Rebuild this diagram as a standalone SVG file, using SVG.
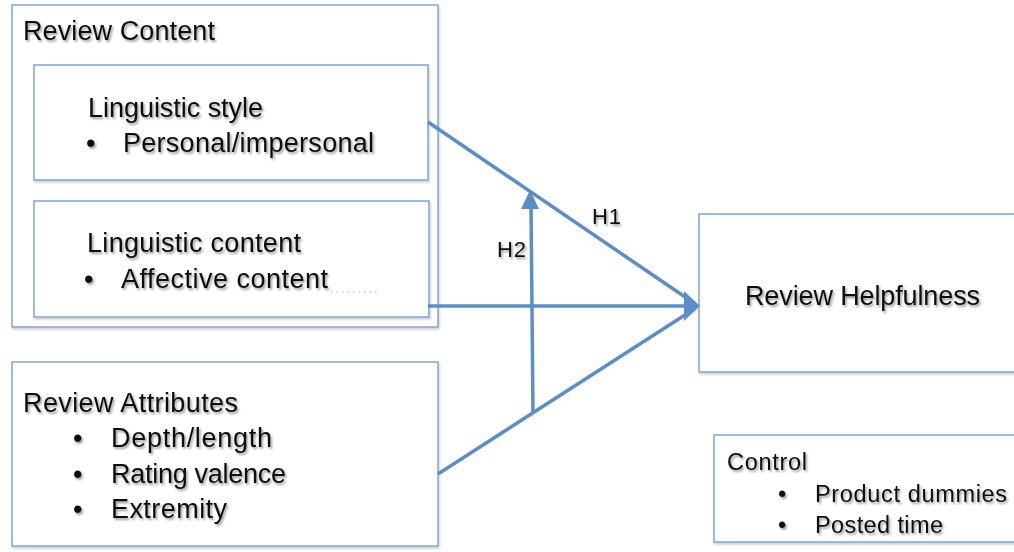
<svg xmlns="http://www.w3.org/2000/svg" width="1014" height="552" viewBox="0 0 1014 552">
<defs>
<filter id="ts" x="-10%" y="-30%" width="130%" height="180%">
<feDropShadow dx="1.5" dy="2" stdDeviation="1.3" flood-color="#000" flood-opacity="0.4"/>
</filter>
<filter id="bs" x="-5%" y="-5%" width="110%" height="115%">
<feDropShadow dx="1" dy="2" stdDeviation="1" flood-color="#000" flood-opacity="0.18"/>
</filter>
</defs>
<style>
.box{fill:#fff;stroke:#7fa6d6;stroke-width:1.5;filter:url(#bs)}
.t{font-family:"Liberation Sans",Arial,sans-serif;font-size:27px;fill:#111;filter:url(#ts)}
.s{font-family:"Liberation Sans",Arial,sans-serif;font-size:23.5px;fill:#111;filter:url(#ts)}
.h{font-family:"Liberation Sans",Arial,sans-serif;font-size:22px;fill:#111;filter:url(#ts)}
.ln{stroke:#5b8ec8;stroke-width:3.5;fill:none}
.ah{fill:#5b8ec8}
</style>
<rect width="1014" height="552" fill="#fff"/>
<g id="review-content">
<rect class="box" x="12" y="5" width="426" height="322"/>
<text class="t" x="23" y="40" textLength="192">Review Content</text>
</g>
<g id="linguistic-style">
<rect class="box" x="34" y="65" width="394" height="115"/>
<text class="t" x="88" y="117" textLength="175">Linguistic style</text>
<text class="t" x="86" y="152">•</text>
<text class="t" x="123" y="152" textLength="251">Personal/impersonal</text>
</g>
<g id="linguistic-content">
<rect class="box" x="34" y="201" width="395" height="116"/>
<text class="t" x="87" y="252" textLength="214">Linguistic content</text>
<text class="t" x="84" y="288">•</text>
<text class="t" x="121" y="288" textLength="207">Affective content</text>
<line x1="331" y1="292" x2="378" y2="292" stroke="#c8c8c8" stroke-width="1.5" stroke-dasharray="1.5 4"/>
</g>
<g id="review-attributes">
<rect class="box" x="12" y="362" width="426" height="184"/>
<text class="t" x="23" y="412" textLength="215">Review Attributes</text>
<text class="t" x="73" y="447">•</text>
<text class="t" x="111" y="447" textLength="161">Depth/length</text>
<text class="t" x="73" y="483">•</text>
<text class="t" x="111" y="483" textLength="175">Rating valence</text>
<text class="t" x="73" y="518">•</text>
<text class="t" x="111" y="518" textLength="116">Extremity</text>
</g>
<g id="review-helpfulness">
<rect class="box" x="699" y="214" width="330" height="158"/>
<text class="t" x="745" y="305" textLength="235">Review Helpfulness</text>
</g>
<g id="control">
<rect class="box" x="714" y="435" width="320" height="107"/>
<text class="s" x="727" y="470" textLength="80">Control</text>
<text class="s" x="778" y="502">•</text>
<text class="s" x="815" y="502" textLength="192">Product dummies</text>
<text class="s" x="778" y="533">•</text>
<text class="s" x="815" y="533" textLength="128">Posted time</text>
</g>
<g id="connectors">
<line class="ln" x1="428" y1="122" x2="688" y2="299"/>
<line class="ln" x1="428" y1="306" x2="688" y2="306"/>
<line class="ln" x1="438" y1="474" x2="688" y2="313"/>
<polygon class="ah" points="684,291 700,306 684,321"/>
<line class="ln" x1="533" y1="412" x2="531" y2="205"/>
<polygon class="ah" points="530,190 539,209 521,209"/>
<text class="h" x="592" y="224" textLength="29">H1</text>
<text class="h" x="497" y="257" textLength="29">H2</text>
</g>
</svg>
